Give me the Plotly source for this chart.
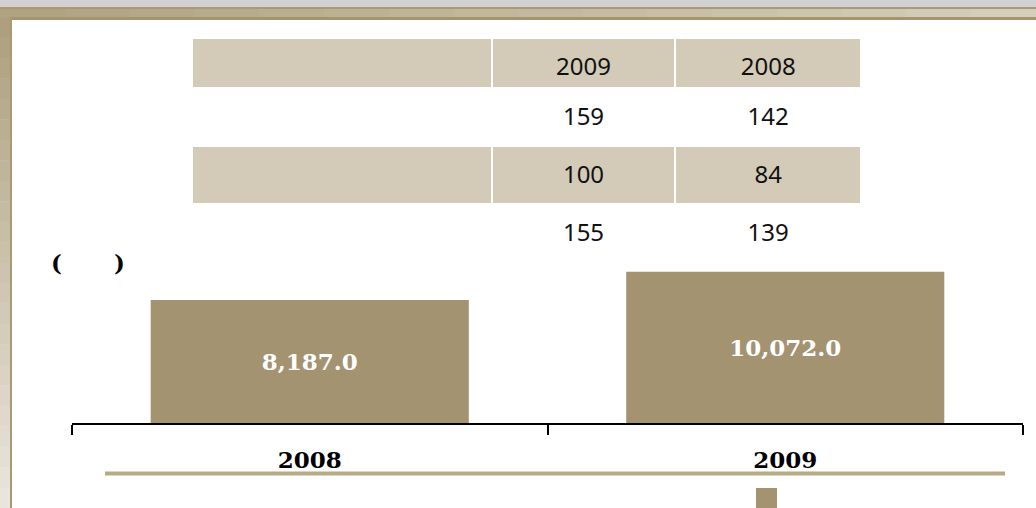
import plotly.graph_objects as go

W, H = 1036, 508

# ---- data ----
years = ["2008", "2009"]
values = [8187.0, 10072.0]

table_header = ["", "2009", "2008"]
table_col_label = ["", "", ""]
table_col_2009 = ["159", "100", "155"]
table_col_2008 = ["142", "84", "139"]

BAR = "#a39370"
SHADE = "#d3cbb8"
LINE_BEIGE = "#b8aa86"
CLEAR = "rgba(0,0,0,0)"


def px(x):
    return x / W


def py(y):
    return 1 - y / H


fig = go.Figure()

fig.add_trace(go.Bar(
    x=years, y=values,
    marker=dict(color=BAR, line=dict(width=0)),
    texttemplate="%{y:,.1f}",
    textposition="inside",
    insidetextanchor="middle",
    textfont=dict(family="DejaVu Serif", size=23, color="white", weight="bold"),
    showlegend=False,
    xaxis="x", yaxis="y",
))

TABLE_TOP = 38
TEXT_DROP = 11
COLW = [297, 182, 184]
tfont = dict(family="Noto Sans", size=24, color="#111111")
blank = [""] * len(table_col_2009)

# shading layer of the table
fig.add_trace(go.Table(
    domain=dict(x=[px(192), px(861)], y=[py(262), py(TABLE_TOP)]),
    columnwidth=COLW,
    header=dict(values=[""] * len(table_header), fill_color=SHADE,
                line=dict(color="white", width=2), height=50, font=tfont),
    cells=dict(values=[blank, blank, blank],
               fill_color=[["white", SHADE, "white"]] * 3,
               line=dict(color="white", width=2), height=58, font=tfont),
))
# text layer of the table (vertically centred in the rows)
fig.add_trace(go.Table(
    domain=dict(x=[px(192), px(861)], y=[py(262 + TEXT_DROP), py(TABLE_TOP + TEXT_DROP)]),
    columnwidth=COLW,
    header=dict(values=table_header, fill_color=CLEAR,
                line=dict(color=CLEAR, width=0), height=50, align="center", font=tfont),
    cells=dict(values=[table_col_label, table_col_2009, table_col_2008],
               fill_color=CLEAR, line=dict(color=CLEAR, width=0), height=58,
               align="center", font=tfont),
))

shapes = []
# top gray strip
shapes.append(dict(type="rect", xref="paper", yref="paper", x0=0, x1=1, y0=py(7), y1=1,
                   fillcolor="#d1d0d2", line=dict(width=0), layer="below"))
# top beige band with horizontal gradient
n = 16
c0 = (0xb0, 0xa3, 0x82)
c1 = (0xd6, 0xce, 0xbb)
for i in range(n):
    t = i / (n - 1)
    c = tuple(int(c0[k] + (c1[k] - c0[k]) * t) for k in range(3))
    shapes.append(dict(type="rect", xref="paper", yref="paper",
                       x0=px(W * i / n), x1=px(W * (i + 1) / n) + 0.001,
                       y0=py(17), y1=py(8),
                       fillcolor="rgb(%d,%d,%d)" % c, line=dict(width=0), layer="below"))
shapes.append(dict(type="rect", xref="paper", yref="paper", x0=0, x1=1, y0=py(9), y1=py(7),
                   fillcolor="#a89a74", line=dict(width=0), layer="below"))
shapes.append(dict(type="rect", xref="paper", yref="paper", x0=px(10), x1=1, y0=py(20), y1=py(17),
                   fillcolor="#a3956d", line=dict(width=0), layer="below"))
# left band with vertical gradient
m = 24
l0 = (0xae, 0xa0, 0x7f)
l1 = (0xe9, 0xe5, 0xdd)
for i in range(m):
    t = i / (m - 1)
    c = tuple(int(l0[k] + (l1[k] - l0[k]) * t) for k in range(3))
    y0 = 17 + (H - 17) * i / m
    y1 = 17 + (H - 17) * (i + 1) / m
    shapes.append(dict(type="rect", xref="paper", yref="paper",
                       x0=0, x1=px(10), y0=py(y1) - 0.001, y1=py(y0),
                       fillcolor="rgb(%d,%d,%d)" % c, line=dict(width=0), layer="below"))
shapes.append(dict(type="rect", xref="paper", yref="paper", x0=px(10), x1=px(12), y0=0, y1=py(17),
                   fillcolor="#a89a72", line=dict(width=0), layer="below"))
# beige rule under the axis labels
shapes.append(dict(type="line", xref="paper", yref="paper", x0=px(105), x1=px(1005),
                   y0=py(473.5), y1=py(473.5), line=dict(color=LINE_BEIGE, width=4)))
# legend key
shapes.append(dict(type="rect", xref="paper", yref="paper", x0=px(756), x1=px(777),
                   y0=0, y1=py(488), fillcolor=BAR, line=dict(width=0)))

pfont = dict(family="DejaVu Serif", size=23, color="black", weight="bold")
annotations = [
    dict(text="(", xref="paper", yref="paper", x=px(49), y=py(262), showarrow=False, font=pfont),
    dict(text=")", xref="paper", yref="paper", x=px(112), y=py(262), showarrow=False, font=pfont),
]

fig.update_layout(
    width=W, height=H,
    margin=dict(l=0, r=0, t=0, b=0),
    paper_bgcolor="white",
    plot_bgcolor="rgba(0,0,0,0)",
    bargap=0.331,
    shapes=shapes,
    annotations=annotations,
    xaxis=dict(
        domain=[px(72), px(1023)],
        anchor="y",
        showline=True, linecolor="black", linewidth=2,
        ticks="outside", tickson="boundaries", ticklen=10, tickwidth=2, tickcolor="black",
        tickfont=dict(family="DejaVu Serif", size=23, color="black", weight="bold"),
        ticklabelstandoff=15,
        showgrid=False, zeroline=False, automargin=False, fixedrange=True,
    ),
    yaxis=dict(
        domain=[py(423), py(262)],
        range=[0, 10720],
        visible=False, showgrid=False, zeroline=False, automargin=False, fixedrange=True,
    ),
)

fig.write_html("out.html", config={"displayModeBar": False},
               post_script="document.body.style.margin='0px';")
